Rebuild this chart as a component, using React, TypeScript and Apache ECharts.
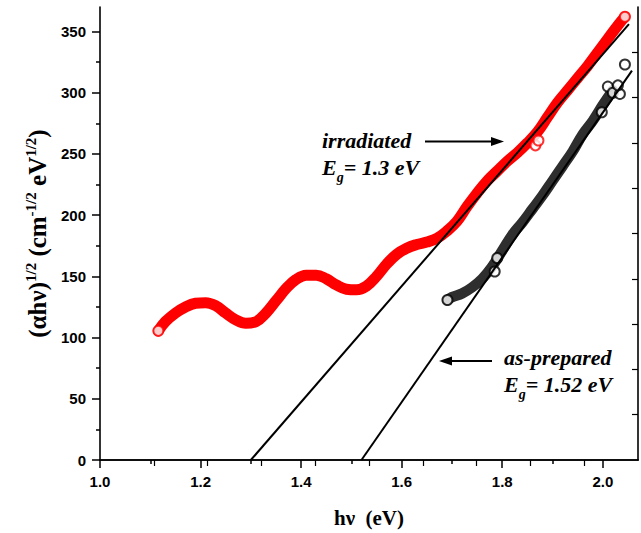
import React, { useEffect, useRef } from "react";
import * as echarts from "echarts";

// ---- data ----
const irradiated: [number, number][] = [
  [1.116, 105.5], [1.13, 113], [1.15, 120], [1.17, 125], [1.19, 128], [1.21, 128.5],
  [1.23, 126], [1.25, 120], [1.27, 114.5], [1.29, 111.7], [1.31, 113], [1.33, 120],
  [1.35, 130], [1.37, 140], [1.39, 147.5], [1.41, 151], [1.43, 151], [1.45, 148],
  [1.47, 143], [1.49, 139.5], [1.51, 139], [1.53, 142], [1.55, 150], [1.57, 160],
  [1.59, 168], [1.61, 173], [1.63, 176], [1.65, 178], [1.67, 181], [1.69, 187],
  [1.71, 195], [1.73, 207], [1.75, 218], [1.77, 228], [1.79, 236], [1.81, 244],
  [1.83, 251], [1.85, 259], [1.87, 268], [1.89, 280], [1.91, 292], [1.93, 302],
  [1.95, 312], [1.97, 322], [1.99, 333], [2.01, 344], [2.03, 355], [2.044, 362],
];
const irradiatedOutliers: [number, number][] = [[1.866, 257], [1.872, 261]];

const asPrepared: [number, number][] = [
  [1.691, 130.7], [1.70, 133], [1.72, 136], [1.74, 141], [1.76, 148], [1.78, 158],
  [1.80, 171], [1.82, 184], [1.84, 194], [1.86, 205], [1.88, 216], [1.90, 228],
  [1.92, 240], [1.94, 252], [1.96, 266], [1.98, 277], [2.00, 290], [2.02, 302],
];
const asPreparedOutliers: [number, number][] = [
  [1.785, 154], [1.79, 165], [1.998, 284], [2.01, 305], [2.02, 300],
  [2.034, 299], [2.03, 306], [2.044, 323],
];

const irradiatedFit: [number, number][] = [[1.30, 0], [2.052, 356]];
const asPreparedFit: [number, number][] = [[1.52, 0], [2.058, 318]];

const xMajorTicks = [1.0, 1.2, 1.4, 1.6, 1.8, 2.0];
const xMinorTicks = [1.1, 1.3, 1.5, 1.7, 1.9];
const yMajorTicks = [0, 50, 100, 150, 200, 250, 300, 350];
const yMinorTicks = [25, 75, 125, 175, 225, 275, 325];
const frameTicks = [1, 2, 3, 4, 5, 6, 7, 8, 9];

const RED = "#ff0000";
const serif = "Liberation Serif";
const sans = "Liberation Sans";

export default function App() {
  const ref = useRef<HTMLDivElement>(null);
  useEffect(() => {
    if (!ref.current) return;
    const chart = echarts.init(ref.current, undefined, { renderer: "svg" });
    const labelStyle = { fontFamily: sans, fontWeight: "bold" as const, fontSize: 15, color: "#000" };
    const axisLine = { show: true, lineStyle: { color: "#000", width: 1.6 } };
    const annotRich = {
      b: { fontFamily: serif, fontWeight: "bold", fontStyle: "italic", fontSize: 22, fill: "#000",
        lineHeight: 28, verticalAlign: "top" },
      s: { fontFamily: serif, fontWeight: "bold", fontStyle: "italic", fontSize: 14, fill: "#000",
        lineHeight: 14, verticalAlign: "bottom" },
    };
    const annot = (text: string, x: number, y: number) => ({
      type: "text", x, y, silent: true,
      style: { text, fontFamily: serif, fontWeight: "bold", fontStyle: "italic", fontSize: 22,
        fill: "#000", align: "left", verticalAlign: "middle", rich: annotRich },
    });
    const arrow = (x1: number, x2: number, y: number) => {
      const dir = x2 > x1 ? 1 : -1;
      return [
        { type: "line", silent: true, shape: { x1, y1: y, x2: x2 - dir * 10, y2: y },
          style: { stroke: "#000", lineWidth: 2 } },
        { type: "polygon", silent: true,
          shape: { points: [[x2, y], [x2 - dir * 13, y - 4.5], [x2 - dir * 13, y + 4.5]] },
          style: { fill: "#000" } },
      ];
    };
    chart.setOption({
      animation: false,
      backgroundColor: "#fff",
      grid: { left: 100, right: 3, top: 7, bottom: 71, containLabel: false },
      xAxis: [
        {
          type: "value", min: 1.0, max: 2.07, position: "bottom",
          axisLine,
          axisTick: { show: true, inside: false, length: 8, customValues: xMajorTicks,
            lineStyle: { color: "#000", width: 1.5 } },
          axisLabel: { ...labelStyle, margin: 14, customValues: xMajorTicks,
            formatter: (v: number) => v.toFixed(1) },
          splitLine: { show: false },
          name: "hν  (eV)", nameLocation: "middle", nameGap: 47,
          nameTextStyle: { fontFamily: serif, fontWeight: "bold", fontSize: 21, color: "#000" },
        },
        {
          type: "value", min: 1.0, max: 2.07, position: "bottom",
          axisLine: { show: false },
          axisTick: { show: true, inside: false, length: 4, customValues: xMinorTicks,
            lineStyle: { color: "#000", width: 1.5 } },
          axisLabel: { show: false }, splitLine: { show: false },
        },
        {
          type: "value", min: 0, max: 10, position: "top",
          axisLine,
          axisTick: { show: true, inside: true, length: 6, customValues: frameTicks,
            lineStyle: { color: "#000", width: 1.2 } },
          axisLabel: { show: false }, splitLine: { show: false },
        },
      ],
      yAxis: [
        {
          type: "value", min: 0, max: 370, position: "left",
          axisLine,
          axisTick: { show: true, inside: false, length: 8, customValues: yMajorTicks,
            lineStyle: { color: "#000", width: 1.5 } },
          axisLabel: { ...labelStyle, margin: 14, customValues: yMajorTicks },
          splitLine: { show: false },
          name: "{b|(αhν)}{s|1/2}{b| (cm}{s|-1/2}{b| eV}{s|1/2}{b|)}",
          nameLocation: "middle", nameGap: 50, nameRotate: 90,
          nameTextStyle: {
            rich: {
              b: { fontFamily: serif, fontWeight: "bold", fontSize: 25, color: "#000",
                lineHeight: 27, verticalAlign: "bottom" },
              s: { fontFamily: serif, fontWeight: "bold", fontSize: 15, color: "#000",
                lineHeight: 14, verticalAlign: "top" },
            },
          },
        },
        {
          type: "value", min: 0, max: 370, position: "left",
          axisLine: { show: false },
          axisTick: { show: true, inside: false, length: 4, customValues: yMinorTicks,
            lineStyle: { color: "#000", width: 1.5 } },
          axisLabel: { show: false }, splitLine: { show: false },
        },
        {
          type: "value", min: 0, max: 10, position: "right",
          axisLine,
          axisTick: { show: true, inside: true, length: 6, customValues: frameTicks,
            lineStyle: { color: "#000", width: 1.2 } },
          axisLabel: { show: false }, splitLine: { show: false },
        },
      ],
      series: [
        {
          name: "irradiated band", type: "line", data: irradiated, smooth: 0.4,
          showSymbol: false, lineStyle: { color: RED, width: 11, cap: "round", join: "round" },
          z: 2,
        },
        {
          name: "as-prepared band", type: "line", data: asPrepared, smooth: 0.4,
          showSymbol: false, lineStyle: { color: "#2e2e2e", width: 10.5, cap: "round", join: "round" },
          z: 2,
        },
        {
          name: "irradiated points", type: "scatter",
          data: [irradiated[0], irradiated[irradiated.length - 1], ...irradiatedOutliers],
          symbol: "emptyCircle", symbolSize: 10,
          itemStyle: { color: RED, borderColor: RED, borderWidth: 1.2 }, z: 3,
        },
        {
          name: "as-prepared points", type: "scatter",
          data: [asPrepared[0], ...asPreparedOutliers],
          symbol: "emptyCircle", symbolSize: 10,
          itemStyle: { color: "#000", borderColor: "#000", borderWidth: 1.2 }, z: 3,
        },
        {
          name: "irradiated fit", type: "line", data: irradiatedFit, showSymbol: false,
          lineStyle: { color: "#000", width: 2 }, z: 4,
        },
        {
          name: "as-prepared fit", type: "line", data: asPreparedFit, showSymbol: false,
          lineStyle: { color: "#000", width: 2 }, z: 4,
        },
      ],
      graphic: [
        annot("{b|irradiated}", 322, 143),
        annot("{b|E}{s|g}{b|= 1.3 eV}", 322, 170.5),
        ...arrow(425, 504, 141.5),
        annot("{b|as-prepared}", 504, 360),
        annot("{b|E}{s|g}{b|= 1.52 eV}", 504, 387),
        ...arrow(492, 439, 361),
      ],
    });
    return () => chart.dispose();
  }, []);
  return (
    <div
      ref={ref}
      style={{ position: "fixed", left: 0, top: 0, width: 641, height: 533, background: "#fff" }}
    />
  );
}
